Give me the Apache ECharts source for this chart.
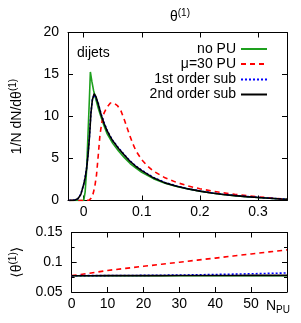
<!DOCTYPE html>
<html><head><meta charset="utf-8">
<script src="https://cdn.jsdelivr.net/npm/echarts@6/dist/echarts.min.js"></script>
<style>html,body{margin:0;padding:0;background:#fff}#c{width:301px;height:323px}</style>
</head><body><div id="c"></div>
<script>
// ---- top panel: theta^(1) distributions ----
const noPuTheta = [-0.025, 0.0, 0.0025, 0.005, 0.0075, 0.01, 0.0115, 0.014, 0.017, 0.02, 0.025, 0.03, 0.035, 0.04, 0.05, 0.06, 0.07, 0.08, 0.09, 0.1, 0.12, 0.14, 0.16, 0.18, 0.2, 0.22, 0.24, 0.26, 0.28, 0.3, 0.32, 0.34, 0.35];
const noPuDensity = [0, 0, 1.0, 3.6, 8.0, 12.4, 15.3, 14.2, 13.1, 12.3, 11.0, 9.9, 8.9, 8.0, 6.8, 5.9, 5.1, 4.4, 3.85, 3.35, 2.6, 2.05, 1.68, 1.37, 1.1, 0.9, 0.72, 0.58, 0.46, 0.36, 0.27, 0.18, 0.14];

const pu30Theta = [-0.025, 0.005, 0.0095, 0.013, 0.016, 0.019, 0.022, 0.025, 0.028, 0.031, 0.035, 0.04, 0.046, 0.052, 0.058, 0.064, 0.07, 0.075, 0.08, 0.085, 0.09, 0.1, 0.11, 0.12, 0.14, 0.16, 0.18, 0.2, 0.22, 0.24, 0.26, 0.28, 0.3, 0.32, 0.34, 0.35];
const pu30Density = [0, 0, 0.05, 0.3, 0.75, 1.6, 3.0, 5.3, 7.8, 9.2, 10.4, 11.1, 11.6, 11.6, 11.3, 10.7, 9.6, 8.6, 7.6, 6.7, 5.9, 4.85, 4.1, 3.5, 2.7, 2.15, 1.72, 1.4, 1.13, 0.92, 0.74, 0.58, 0.44, 0.31, 0.19, 0.14];

const subTheta = [-0.025, -0.015, -0.01, -0.005, 0, 0.0025, 0.005, 0.0075, 0.01, 0.0125, 0.015, 0.018, 0.021, 0.025, 0.03, 0.035, 0.04, 0.045, 0.05, 0.06, 0.07, 0.08, 0.09, 0.1, 0.12, 0.14, 0.16, 0.18, 0.2, 0.22, 0.24, 0.26, 0.28, 0.3, 0.32, 0.34, 0.35];
const sub1Density = [0, 0.06, 0.22, 0.75, 1.95, 2.75, 3.85, 5.5, 7.7, 10.5, 12.0, 12.6, 12.4, 11.6, 10.3, 9.3, 8.4, 7.75, 7.15, 6.25, 5.45, 4.7, 4.1, 3.6, 2.75, 2.15, 1.73, 1.4, 1.14, 0.92, 0.74, 0.6, 0.48, 0.37, 0.28, 0.19, 0.15];
const sub2Density = [0, 0.05, 0.2, 0.7, 1.9, 2.7, 3.8, 5.4, 7.6, 10.4, 12.0, 12.7, 12.4, 11.5, 10.2, 9.2, 8.35, 7.7, 7.1, 6.2, 5.4, 4.65, 4.05, 3.55, 2.7, 2.1, 1.7, 1.38, 1.12, 0.9, 0.72, 0.58, 0.46, 0.36, 0.27, 0.18, 0.14];

const topXTicks = [0, 0.1, 0.2, 0.3];

// ---- bottom panel: <theta^(1)> vs N_PU ----
const nPU = [0, 5, 10, 15, 20, 25, 30, 35, 40, 45, 50, 55, 60];
const meanNoPU = [0.0772, 0.0772, 0.0772, 0.0772, 0.0772, 0.0772, 0.0772, 0.0772, 0.0772, 0.0772, 0.0772, 0.0772, 0.0772];
const meanPU = [0.0775, 0.0815, 0.0862, 0.0897, 0.0932, 0.0966, 0.1001, 0.1036, 0.1070, 0.1105, 0.1140, 0.1174, 0.1208];
const mean1st = [0.0774, 0.0775, 0.0776, 0.0777, 0.0779, 0.0782, 0.0785, 0.0789, 0.0794, 0.0800, 0.0806, 0.0813, 0.0820];
const mean2nd = [0.0774, 0.0774, 0.0775, 0.0775, 0.0776, 0.0776, 0.0777, 0.0777, 0.0778, 0.0778, 0.0779, 0.0779, 0.0780];

const names = ['no PU', 'μ=30 PU', '1st order sub', '2nd order sub'];
const colors = ['#1ea01e', '#ff0000', '#0000ff', '#000000'];
const dashes = ['solid', [5, 4], [2, 2], 'solid'];

const FONT = "'Liberation Sans', Arial, 'DejaVu Sans', sans-serif";
const zip = (a, b) => a.map((v, i) => [v, b[i]]);

const axisLine = {show: true, onZero: false, lineStyle: {color: '#000', width: 1}};
const tick = {show: true, inside: true, length: 5, lineStyle: {color: '#000'}};
const lbl = {color: '#000', fontSize: 14, fontFamily: FONT};

const topSeries = [zip(noPuTheta, noPuDensity), zip(pu30Theta, pu30Density), zip(subTheta, sub1Density), zip(subTheta, sub2Density)];
const botSeries = [zip(nPU, meanNoPU), zip(nPU, meanPU), zip(nPU, mean1st), zip(nPU, mean2nd)];

const series = [];
for (let i = 0; i < 4; i++) {
  series.push({
    type: 'line', name: names[i], xAxisIndex: 0, yAxisIndex: 0, data: topSeries[i],
    symbol: 'none', showSymbol: false, smooth: false, z: 2 + i,
    lineStyle: {color: colors[i], width: 1.6, type: dashes[i]}, itemStyle: {color: colors[i]}
  });
}
for (let i = 0; i < 4; i++) {
  series.push({
    type: 'line', name: names[i], xAxisIndex: 2, yAxisIndex: 2, data: botSeries[i],
    symbol: 'none', showSymbol: false, z: 2 + i,
    lineStyle: {color: colors[i], width: 1.6, type: dashes[i]}, itemStyle: {color: colors[i]}
  });
}

const legendTops = [42, 57, 72.5, 87.5];
const legends = names.map((n, i) => ({
  data: [n], right: 33, top: legendTops[i], itemWidth: 26, itemHeight: 14,
  selectedMode: false, orient: 'vertical', align: 'right', padding: 0,
  itemStyle: {opacity: 0},
  textStyle: {color: '#000', fontSize: 14, fontFamily: FONT}
}));

const supRich = {
  a: {fontSize: 14, fontFamily: FONT, color: '#000', fontWeight: 'normal'},
  s: {fontSize: 10, fontFamily: FONT, color: '#000', fontWeight: 'normal', padding: [0, 0, 9, 0]}
};

const option = {
  animation: false,
  backgroundColor: '#fff',
  title: [
    {text: '{a|θ}{s|(1)}', left: 165, top: 3, textStyle: {fontWeight: 'normal', rich: supRich}},
    {text: 'dijets', left: 72, top: 41, textStyle: {fontSize: 14, fontWeight: 'normal', fontFamily: FONT, color: '#000'}}
  ],
  legend: legends,
  grid: [
    {left: 63, top: 32.5, width: 224, height: 168},
    {left: 63, top: 232.5, width: 224, height: 59.5}
  ],
  xAxis: [
    {gridIndex: 0, type: 'value', min: -0.027, max: 0.35, position: 'bottom', axisLine,
     axisTick: Object.assign({}, tick, {customValues: topXTicks}),
     axisLabel: Object.assign({}, lbl, {customValues: topXTicks, margin: 5, formatter: v => String(+v.toFixed(2))}),
     splitLine: {show: false}},
    {gridIndex: 0, type: 'value', min: -0.027, max: 0.35, position: 'top', axisLine,
     axisTick: Object.assign({}, tick, {customValues: topXTicks}), axisLabel: {show: false}, splitLine: {show: false}},
    {gridIndex: 1, type: 'value', min: 0, max: 60, interval: 10, position: 'bottom', axisLine, axisTick: tick,
     axisLabel: Object.assign({}, lbl, {margin: 5, showMaxLabel: false, formatter: v => v === 60 ? '' : String(v)}),
     splitLine: {show: false},
     name: '{n|N}{p|PU}', nameLocation: 'end', nameGap: -21,
     nameTextStyle: {align: 'left', verticalAlign: 'top', padding: [6, 0, 0, 0],
       rich: {n: {fontSize: 14, fontFamily: FONT, color: '#000'}, p: {fontSize: 10, fontFamily: FONT, color: '#000', padding: [7, 0, 0, 0]}}}},
    {gridIndex: 1, type: 'value', min: 0, max: 60, interval: 10, position: 'top', axisLine, axisTick: tick,
     axisLabel: {show: false}, splitLine: {show: false}}
  ],
  yAxis: [
    {gridIndex: 0, type: 'value', min: 0, max: 20, interval: 5, position: 'left', axisLine, axisTick: tick,
     axisLabel: Object.assign({}, lbl, {margin: 9}), splitLine: {show: false},
     name: '{a|1/N dN/dθ}{s|(1)}', nameLocation: 'middle', nameRotate: 90, nameGap: 41,
     nameTextStyle: {rich: supRich}},
    {gridIndex: 0, type: 'value', min: 0, max: 20, interval: 5, position: 'right', axisLine, axisTick: tick,
     axisLabel: {show: false}, splitLine: {show: false}},
    {gridIndex: 1, type: 'value', min: 0.05, max: 0.15, interval: 0.05, position: 'left', axisLine, axisTick: tick,
     minorTick: {show: true, splitNumber: 2, length: 3, lineStyle: {color: '#000'}},
     axisLabel: Object.assign({}, lbl, {margin: 9, formatter: v => String(+v.toFixed(2))}), splitLine: {show: false},
     name: '{a|⟨θ}{s|(1)}{a|⟩}', nameLocation: 'middle', nameRotate: 90, nameGap: 41,
     nameTextStyle: {rich: supRich}},
    {gridIndex: 1, type: 'value', min: 0.05, max: 0.15, interval: 0.05, position: 'right', axisLine, axisTick: tick,
     minorTick: {show: true, splitNumber: 2, length: 3, lineStyle: {color: '#000'}},
     axisLabel: {show: false}, splitLine: {show: false}}
  ],
  series
};
const chart = echarts.init(document.getElementById('c'), null, {renderer: 'canvas'});
chart.setOption(option);
</script>
</body></html>
